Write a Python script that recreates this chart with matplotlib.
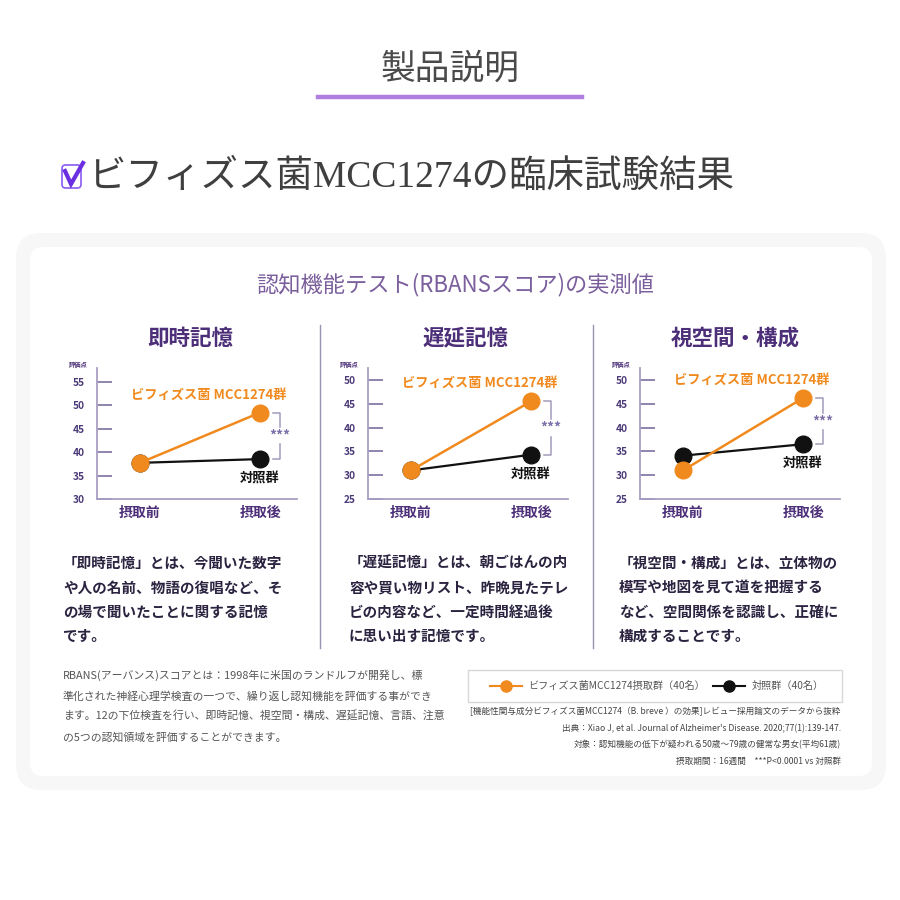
#!/usr/bin/python3

# Recreate the RBANS result card for Bifidobacterium MCC1274

import matplotlib
matplotlib.use("Agg")
import matplotlib.pyplot as plt
import matplotlib.patches as mpatches
from matplotlib.lines import Line2D

plt.rcParams['font.family'] = ['Noto Sans CJK JP', 'DejaVu Sans']

# data
panels = ["即時記憶", "遅延記憶", "視空間・構成"]
x_labels = ["摂取前", "摂取後"]
mcc = [[37.7, 48.4], [31.0, 45.5], [31.0, 46.2]]
ctrl = [[37.7, 38.5], [31.0, 34.3], [34.1, 36.5]]
yticks = [[30, 35, 40, 45, 50, 55], [25, 30, 35, 40, 45, 50], [25, 30, 35, 40, 45, 50]]
ylims = [(30, 57.9), (25, 52.5), (25, 52.5)]
descs = [
    ["「即時記憶」とは、今聞いた数字", "や人の名前、物語の復唱など、そ", "の場で聞いたことに関する記憶", "です。"],
    ["「遅延記憶」とは、朝ごはんの内", "容や買い物リスト、昨晩見たテレ", "ビの内容など、一定時間経過後", "に思い出す記憶です。"],
    ["「視空間・構成」とは、立体物の", "模写や地図を見て道を把握する", "など、空間関係を認識し、正確に", "構成することです。"],
]
note = [
    "RBANS(アーバンス)スコアとは：1998年に米国のランドルフが開発し、標",
    "準化された神経心理学検査の一つで、繰り返し認知機能を評価する事ができ",
    "ます。12の下位検査を行い、即時記憶、視空間・構成、遅延記憶、言語、注意",
    "の5つの認知領域を評価することができます。",
]
cite = [
    "[機能性関与成分ビフィズス菌MCC1274（B. breve ）の効果]レビュー採用論文のデータから抜粋",
    "出典：Xiao J, et al. Journal of Alzheimer's Disease. 2020;77(1):139-147.",
    "対象：認知機能の低下が疑われる50歳～79歳の健常な男女(平均61歳)",
    "摂取期間：16週間　***P<0.0001 vs 対照群",
]
legend_labels = ["ビフィズス菌MCC1274摂取群（40名）", "対照群（40名）"]

ORANGE = "#f08a1e"
PURPLE = "#4c2f78"
AXIS_C = "#a99fc2"

W = H = 900.0


def fx(x):
    return x / W


def fy(y):
    return 1 - y / H


fig = plt.figure(figsize=(9, 9), dpi=100)
fig.patch.set_facecolor("white")

# header
fig.text(fx(450), fy(69), "製品説明", ha="center", va="center", fontsize=25, color="#4a4a4a")
fig.add_artist(Line2D([fx(318), fx(582)], [fy(97), fy(97)], color="#b07ee0", lw=3.2))

# checkbox + heading
fig.add_artist(mpatches.FancyBboxPatch((fx(62), fy(188)), fx(19), 23 / H,
                                       boxstyle="round,pad=0,rounding_size=0.004",
                                       transform=fig.transFigure, fill=False,
                                       edgecolor="#8a5cf0", lw=1.2))
fig.add_artist(Line2D([fx(65), fx(71), fx(83)], [fy(171), fy(184), fy(163)],
                      color="#6a2fe0", lw=3.0, solid_joinstyle="miter"))
fig.text(fx(88), fy(177), "ビフィズス菌MCC1274の臨床試験結果", ha="left", va="center",
         fontsize=27, color="#3f3f3f", family=["Liberation Serif", "Noto Sans CJK JP"])

# card (behind the axes)
fig.add_artist(mpatches.FancyBboxPatch((fx(16), fy(790)), fx(870), 557 / H,
                                       boxstyle="round,pad=0,rounding_size=0.028",
                                       transform=fig.transFigure, facecolor="#f7f7f7",
                                       edgecolor="none", zorder=-2))
fig.add_artist(mpatches.FancyBboxPatch((fx(30), fy(776)), fx(842), 529 / H,
                                       boxstyle="round,pad=0,rounding_size=0.015",
                                       transform=fig.transFigure, facecolor="white",
                                       edgecolor="none", zorder=-1))
fig.text(fx(455), fy(285), "認知機能テスト(RBANSスコア)の実測値", ha="center", va="center",
         fontsize=16, color="#7b5f9d")

# dividers
for dx in [320, 593]:
    fig.add_artist(Line2D([fx(dx), fx(dx)], [fy(325), fy(648)], color="#9b90b5", lw=1))

title_x = [190, 465, 735]
axis_x = [97, 368, 640]
desc_x = [63, 349, 619]

for i in range(3):
    fig.text(fx(title_x[i]), fy(338), panels[i], ha="center", va="center",
             fontsize=15.5, fontweight="bold", color=PURPLE)

    ax = fig.add_axes([fx(axis_x[i]), fy(499), fx(200), 131 / H])
    ax.set_facecolor("none")
    ax.plot([0, 1], ctrl[i], color="#111111", lw=1.6, marker="o", ms=12, zorder=3,
            clip_on=False)
    ax.plot([0, 1], mcc[i], color=ORANGE, lw=1.8, marker="o", ms=12, zorder=4,
            clip_on=False)
    ax.set_xlim(-0.358, 1.308)
    ax.set_ylim(*ylims[i])
    ax.set_yticks(yticks[i])
    ax.set_xticks([0, 1])
    ax.set_xticklabels(x_labels, fontsize=10, fontweight="bold", color=PURPLE)
    for s in ["top", "right"]:
        ax.spines[s].set_visible(False)
    for s in ["left", "bottom"]:
        ax.spines[s].set_color(AXIS_C)
        ax.spines[s].set_linewidth(1.3)
    ax.tick_params(axis="y", direction="in", length=11, width=1.2, color="#7d70a0",
                   labelsize=7.3, labelcolor="#4b3a78", pad=9)
    for lab in ax.get_yticklabels():
        lab.set_fontweight("bold")
    ax.tick_params(axis="x", length=0, pad=5)

    # small y title
    fig.text(fx(axis_x[i] - 28), fy(364), "評価点", ha="left", va="center",
             fontsize=4.5, fontweight="bold", color=PURPLE)

    # group labels
    ax.text(0.57, mcc[i][1] + 3.8, "ビフィズス菌 MCC1274群", ha="center", va="center",
            fontsize=9.5, fontweight="bold", color=ORANGE)
    ax.annotate("対照群", (1, ctrl[i][1]), xytext=(0, -14), textcoords="offset points",
                ha="center", va="center", fontsize=9.5, fontweight="bold", color="#111111")

    # significance bracket
    top, bot = mcc[i][1], ctrl[i][1]
    mid = (top + bot) / 2
    bx = 1.167
    bc = "#a39abb"
    ax.plot([1.11, bx, bx], [top, top, mid + 1.8], color=bc, lw=1.1, clip_on=False)
    ax.plot([1.11, bx, bx], [bot, bot, mid - 1.8], color=bc, lw=1.1, clip_on=False)
    ax.text(bx, mid, "***", ha="center", va="center", fontsize=10, fontweight="bold",
            color="#7d70a8")

    for j, line in enumerate(descs[i]):
        fig.text(fx(desc_x[i]), fy(563 + 24.3 * j), line, ha="left", va="center",
                 fontsize=10.5, fontweight="bold", color="#2b2340")

# note text
for j, line in enumerate(note):
    fig.text(fx(63), fy(675 + 20.8 * j), line, ha="left", va="center",
             fontsize=7.8, color="#555555")

# legend box
fig.add_artist(mpatches.Rectangle((fx(468), fy(702)), fx(374), 32 / H,
                                  transform=fig.transFigure, fill=False,
                                  edgecolor="#d8d8d8", lw=1))
fig.add_artist(Line2D([fx(490), fx(522)], [fy(686), fy(686)], color=ORANGE, lw=1.5))
fig.add_artist(Line2D([fx(506)], [fy(686)], color=ORANGE, marker="o", ms=8))
fig.text(fx(528), fy(686), legend_labels[0], ha="left", va="center", fontsize=7.3,
         color="#555555")
fig.add_artist(Line2D([fx(713), fx(745)], [fy(686), fy(686)], color="#111111", lw=1.5))
fig.add_artist(Line2D([fx(729)], [fy(686)], color="#111111", marker="o", ms=8))
fig.text(fx(752), fy(686), legend_labels[1], ha="left", va="center", fontsize=7.3,
         color="#555555")

for j, line in enumerate(cite):
    fig.text(fx(841), fy(712 + 16.3 * j), line, ha="right", va="center",
             fontsize=6.2, color="#444444")

plt.savefig("out.png", dpi=100)
